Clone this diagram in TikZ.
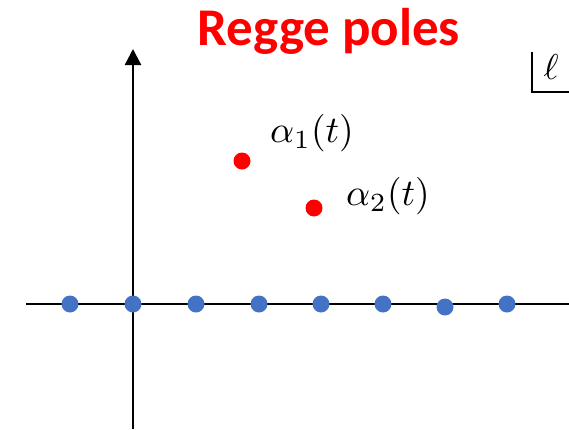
\documentclass[tikz,border=0pt]{standalone}
\usepackage{fontspec}
\newfontfamily\titlefont{Carlito}
\usetikzlibrary{arrows.meta}
\definecolor{poleblue}{RGB}{68,114,196}
\definecolor{polered}{RGB}{255,0,0}
\begin{document}
\begin{tikzpicture}[x=1pt,y=-1pt,
  axis/.style={line width=2.4pt,black},
  bluedot/.style={circle,fill=poleblue,inner sep=0pt,minimum size=17pt},
  reddot/.style={circle,fill=polered,inner sep=0pt,minimum size=17pt},
  mathlabel/.style={inner sep=0pt,scale=3.75}]
\useasboundingbox (0,0) rectangle (569,429);
\coordinate (hl) at (26,304);
\coordinate (hr) at (569,304);
\coordinate (vb) at (133,429);
\coordinate (vt) at (133,49);
\draw[axis] (hl) -- (hr);
\draw[axis,-{Triangle[length=16pt,width=16pt]}] (vb) -- (vt);
\foreach \i/\x/\y in {1/70/304,2/133/304,3/196/304,4/259/304,5/321/304,6/383/304,7/445/307,8/507/304}
  \node[bluedot] (b\i) at (\x,\y) {};
\node[reddot] (r1) at (242,161) {};
\node[reddot] (r2) at (314,208) {};
\node[mathlabel] (l1) at (312,133) {$\alpha_1(t)$};
\node[mathlabel] (l2) at (388,196) {$\alpha_2(t)$};
\node[inner sep=0pt,text=polered,font=\titlefont\bfseries\fontsize{53}{60}\selectfont,anchor=base] (title) at (329,45) {Regge poles};
\coordinate (c1) at (532,52);
\coordinate (c2) at (532,92);
\coordinate (c3) at (569,92);
\draw[line width=2pt] (c1) -- (c2) -- (c3);
\node[inner sep=0pt,scale=3.6] (ell) at (551,67) {$\ell$};
\end{tikzpicture}
\end{document}
